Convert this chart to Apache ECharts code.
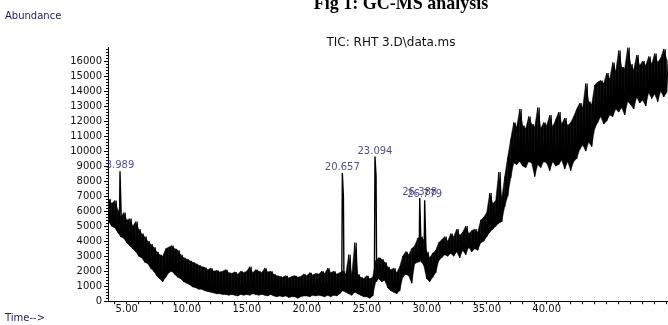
<!DOCTYPE html>
<html>
<head>
<meta charset="utf-8">
<script src="https://cdn.jsdelivr.net/npm/echarts@6/dist/echarts.min.js"></script>
<style>html,body{margin:0;padding:0;background:#fff}#c{width:668px;height:325px}</style>
</head>
<body>
<div id="c"></div>
<script>
// Sampling of the noisy TIC band (axis minutes)
const startTime = 3.5;
const step = 0.25;
// Upper edge of the noise band (abundance)
const bandHigh = [
  6800, 6500,
  6700, 6100, 5600, 5900,
  5400, 5500, 5000, 5300,
  4800, 4500, 4300, 4000,
  3800, 3600, 3300, 3100,
  3000, 3500, 3600, 3700,
  3500, 3400, 3100, 2900,
  2800, 2700, 2600, 2500,
  2400, 2300, 2250, 2100,
  2200, 2000, 2050, 1950,
  2000, 2100, 1900, 1850,
  1950, 1800, 2000, 1900,
  2000, 2300, 1900, 2100,
  2000, 1900, 2200, 1950,
  2000, 1800, 1700, 1650,
  1600, 1700, 1550, 1650,
  1700, 1600, 1650, 1800,
  1700, 1900, 1750, 1850,
  1800, 2000, 1850, 2200,
  1900, 2000, 1800, 1900,
  2000, 1800, 3100, 1700,
  3900, 1800, 1600, 1500,
  1700, 1500, 1600, 2700,
  2900, 2800, 2600, 2300,
  2100, 2200, 1900, 2300,
  3000, 3300, 3100, 3500,
  3700, 4200, 4300, 4100,
  3300, 2900, 3200, 3400,
  3900, 4100, 4300, 4000,
  4500, 4300, 4800, 4400,
  4600, 5000, 4500, 4700,
  4800, 4600, 5400, 5600,
  5900, 7200, 6500, 6700,
  8600, 6800, 8300, 9600,
  10800, 11900, 11600, 12800,
  11700, 11500, 12300, 11800,
  11600, 12900, 11500, 11900,
  11700, 12400, 11600, 12100,
  12600, 11800, 12200, 11700,
  11900, 12300, 12800, 13200,
  12900, 14500, 13300, 13100,
  14400, 14600, 14700, 14500,
  15200, 14800, 15900, 15300,
  16700, 15600, 15500, 16900,
  15800, 15400, 16400, 15700,
  16000, 15700, 16300, 15800,
  16500, 15900, 16200, 16800,
  16100
];
// Lower edge of the noise band (abundance)
const bandLow = [
  5300, 5000,
  4900, 4600, 4300, 4200,
  3900, 3700, 3500, 3300,
  3000, 2900, 2600, 2500,
  2200, 2000, 1700, 1500,
  1300, 1600, 1900, 2000,
  1800, 1600, 1500, 1300,
  1200, 1100, 950, 900,
  800, 800, 700, 650,
  600, 550, 500, 500,
  450, 450, 400, 450,
  400, 350, 450, 400,
  450, 400, 500, 450,
  400, 450, 400, 350,
  450, 350, 300, 350,
  300, 350, 250, 300,
  300, 200, 300, 350,
  350, 300, 400, 350,
  400, 350, 300, 400,
  300, 400, 350, 500,
  700, 600, 500, 400,
  600, 500, 400, 300,
  300, 200, 350, 1300,
  1500, 1300, 1400, 900,
  700, 600, 500, 700,
  1600, 1800, 1700, 1200,
  2500, 2600, 2700, 2400,
  1500, 1300, 1600, 1900,
  2700, 2900, 3100, 3000,
  3200, 3000, 3300, 2900,
  3400, 3100, 3600, 3300,
  3500, 3400, 3900, 4000,
  4300, 4600, 4800, 5000,
  5200, 5300, 6300, 7000,
  8200, 9200, 9100, 9300,
  9000, 8900, 9300, 9200,
  8300, 9100, 8900, 9300,
  9200, 8700, 9300, 9000,
  9100, 9400, 8800, 9300,
  8700, 9300, 9500, 10100,
  10400, 10000, 10600, 10300,
  11500, 11900, 12300, 11800,
  12000, 12400, 12300, 12800,
  12600, 12900, 12400, 13300,
  13100, 12800, 13600, 13200,
  13400, 13000, 13900, 13500,
  13800, 13300, 14000, 13600,
  13900
];
// Labelled peaks
const peakLabels = ['3.989', '20.657', '23.094', '26.388', '26.779'];
const peakTimes = [4.44, 22.97, 25.69, 29.42, 29.83];
const peakTops = [8650, 8540, 9640, 6880, 6720];
const peakShoulders = [null, 6900, 8310, null, null];
const peakBases = [4500, 700, 1300, 2600, 2500];
// Axis tick labels
const xTickLabels = [5, 10, 15, 20, 25, 30, 35, 40];
const yTickLabels = [0, 1000, 2000, 3000, 4000, 5000, 6000, 7000, 8000, 9000, 10000, 11000, 12000, 13000, 14000, 15000, 16000];

const xMin = 3.44, xMax = 50.11, yMax = 16900;

const times = bandHigh.map(function (h, i) { return startTime + i * step; });
const zig = [];
times.forEach(function (t, i) {
  zig.push([t, bandLow[i]]);
  zig.push([t + step / 2, bandHigh[i]]);
});
// band segments: [t, lo, hi, tNext, loNext, hiNext]
const bandSegs = [];
for (let i = 0; i < times.length - 1; i++) {
  bandSegs.push([times[i], bandLow[i], bandHigh[i], times[i + 1], bandLow[i + 1], bandHigh[i + 1]]);
}

const peakLine = [];
peakTimes.forEach(function (t, i) {
  peakLine.push([t - 0.05, peakBases[i]]);
  peakLine.push([t, peakTops[i]]);
  if (peakShoulders[i] !== null) peakLine.push([t + 0.09, peakShoulders[i]]);
  peakLine.push([t + 0.14, peakBases[i]]);
  peakLine.push([null, null]);
});
const peakTopPts = peakTimes.map(function (t, i) { return [t, peakTops[i]]; });

const xMinorTicks = [];
for (let v = 4; v <= 50; v++) xMinorTicks.push(v);
const yMinorTicks = [];
for (let v = 0; v <= 16800; v += 200) yMinorTicks.push(v);

const font = 'DejaVu Sans';
const chart = echarts.init(document.getElementById('c'), null, { renderer: 'canvas' });
chart.setOption({
  animation: false,
  backgroundColor: '#fff',
  grid: { left: 108, right: 0, top: 47.5, bottom: 23.8, containLabel: false },
  xAxis: [{
    type: 'value', min: xMin, max: xMax,
    axisLine: { show: true, onZero: false, lineStyle: { color: '#000', width: 1 } },
    axisTick: { show: true, customValues: xMinorTicks, length: 3, lineStyle: { color: '#000' } },
    axisLabel: { show: true, customValues: xTickLabels, margin: 3, color: '#111', fontFamily: font, fontSize: 10,
      formatter: function (v) { return v.toFixed(2); } },
    splitLine: { show: false }
  }],
  yAxis: [{
    type: 'value', min: 0, max: yMax,
    axisLine: { show: true, lineStyle: { color: '#000', width: 1 } },
    axisTick: { show: true, customValues: yTickLabels, length: 4, lineStyle: { color: '#000' } },
    axisLabel: { show: true, customValues: yTickLabels, margin: 6, color: '#111', fontFamily: font, fontSize: 10,
      formatter: function (v) { return String(v); } },
    splitLine: { show: false }
  }, {
    type: 'value', min: 0, max: yMax, position: 'left',
    axisLine: { show: false },
    axisTick: { show: true, customValues: yMinorTicks, length: 2, lineStyle: { color: '#000' } },
    axisLabel: { show: false },
    splitLine: { show: false }
  }],
  series: [{
    type: 'custom', data: bandSegs, silent: true, clip: true, z: 2,
    encode: { x: [0, 3], y: [1, 2, 4, 5] },
    renderItem: function (params, api) {
      const a = api.coord([api.value(0), api.value(1)]);
      const b = api.coord([api.value(0), api.value(2)]);
      const c = api.coord([api.value(3), api.value(5)]);
      const d = api.coord([api.value(3), api.value(4)]);
      return { type: 'polygon', shape: { points: [a, b, c, d] }, style: { fill: '#000', stroke: '#000', lineWidth: 0.5 } };
    }
  }, {
    type: 'line', data: zig, symbol: 'none', silent: true,
    lineStyle: { color: '#000', width: 1.1 }, z: 3
  }, {
    type: 'line', data: peakLine, symbol: 'none', connectNulls: false, silent: true,
    lineStyle: { color: '#000', width: 1.4 }, z: 4
  }, {
    type: 'scatter', data: peakTopPts, symbolSize: 1, silent: true, z: 5,
    itemStyle: { color: 'rgba(0,0,0,0)' },
    label: { show: true, position: 'top', distance: 0, color: '#24246e', fontFamily: font, fontSize: 10,
      formatter: function (p) { return peakLabels[p.dataIndex]; } }
  }],
  graphic: [
    { type: 'text', x: 401, y: 4, style: { text: 'Fig 1: GC-MS analysis', font: 'bold 18px "Liberation Serif"', fill: '#000', align: 'center', verticalAlign: 'middle' } },
    { type: 'text', x: 5, y: 16, style: { text: 'Abundance', font: '10px "DejaVu Sans"', fill: '#1c1c5c', align: 'left', verticalAlign: 'middle' } },
    { type: 'text', x: 391, y: 43, style: { text: 'TIC: RHT 3.D\\data.ms', font: '12px "DejaVu Sans"', fill: '#111', align: 'center', verticalAlign: 'middle' } },
    { type: 'text', x: 5, y: 318, style: { text: 'Time-->', font: '10px "DejaVu Sans"', fill: '#1c1c5c', align: 'left', verticalAlign: 'middle' } }
  ]
});
</script>
</body>
</html>
